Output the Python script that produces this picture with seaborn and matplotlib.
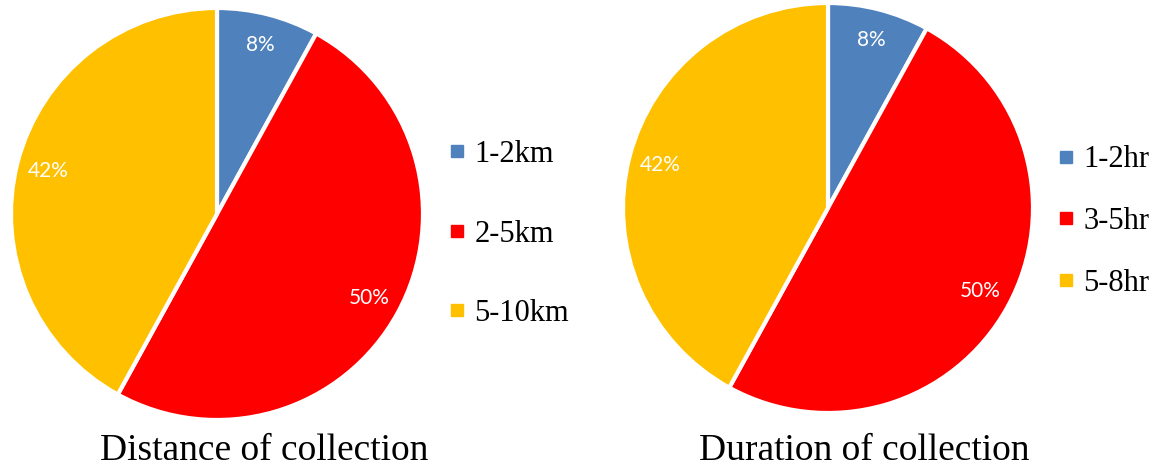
import matplotlib
matplotlib.use("Agg")
import matplotlib.pyplot as plt
from matplotlib.lines import Line2D
import seaborn as sns

# Survey shares for the two pies
distance_labels = ["1-2km", "2-5km", "5-10km"]
distance_values = [8, 50, 42]
duration_labels = ["1-2hr", "3-5hr", "5-8hr"]
duration_values = [8, 50, 42]
titles = ["Distance of collection", "Duration of collection"]

sns.set_theme(style="white")
plt.rcParams["font.family"] = ["Liberation Serif", "DejaVu Serif"]
plt.rcParams["text.color"] = "black"
colors = ["#4F81BD", "#FF0000", "#FFC000"]

W, H = 1154, 468
fig = plt.figure(figsize=(W / 100, H / 100), dpi=100)


def px_axes(cx, cy, r):
    return fig.add_axes([(cx - r) / W, (H - cy - r) / H, 2 * r / W, 2 * r / H])


def draw_pie(ax, values, labels):
    wedges, texts, autotexts = ax.pie(
        values, colors=colors, startangle=90, counterclock=False,
        autopct=lambda p: f"{p:.0f}%", pctdistance=0.845,
        wedgeprops=dict(edgecolor="white", linewidth=3),
        textprops=dict(color="white", fontsize=15, family="Lato"),
    )
    ax.set_xlim(-1.0, 1.0)
    ax.set_ylim(-1.0, 1.0)
    ax.set_aspect("equal")
    ax.axis("off")
    return wedges


def draw_legend(labels, x, y, spacing):
    handles = [Line2D([0], [0], marker="s", linestyle="none", markersize=8.5,
                      markerfacecolor=c, markeredgecolor=c) for c in colors]
    fig.legend(handles, labels, loc="center left",
               bbox_to_anchor=(x / W, 1 - y / H), frameon=False,
               fontsize=22, handlelength=0.45, handletextpad=0.35,
               labelspacing=spacing, borderpad=0, borderaxespad=0,
               labelcolor="black")


ax1 = px_axes(217, 214, 206)
draw_pie(ax1, distance_values, distance_labels)
draw_legend(distance_labels, 450, 234, 1.65)
fig.text(264 / W, 1 - 460 / H, titles[0], ha="center", va="baseline", fontsize=27)

ax2 = px_axes(828, 208, 205)
draw_pie(ax2, duration_values, duration_labels)
draw_legend(duration_labels, 1059, 221.5, 1.07)
fig.text(864 / W, 1 - 460 / H, titles[1], ha="center", va="baseline", fontsize=27)

fig.savefig("out.png", dpi=100, facecolor="white")
